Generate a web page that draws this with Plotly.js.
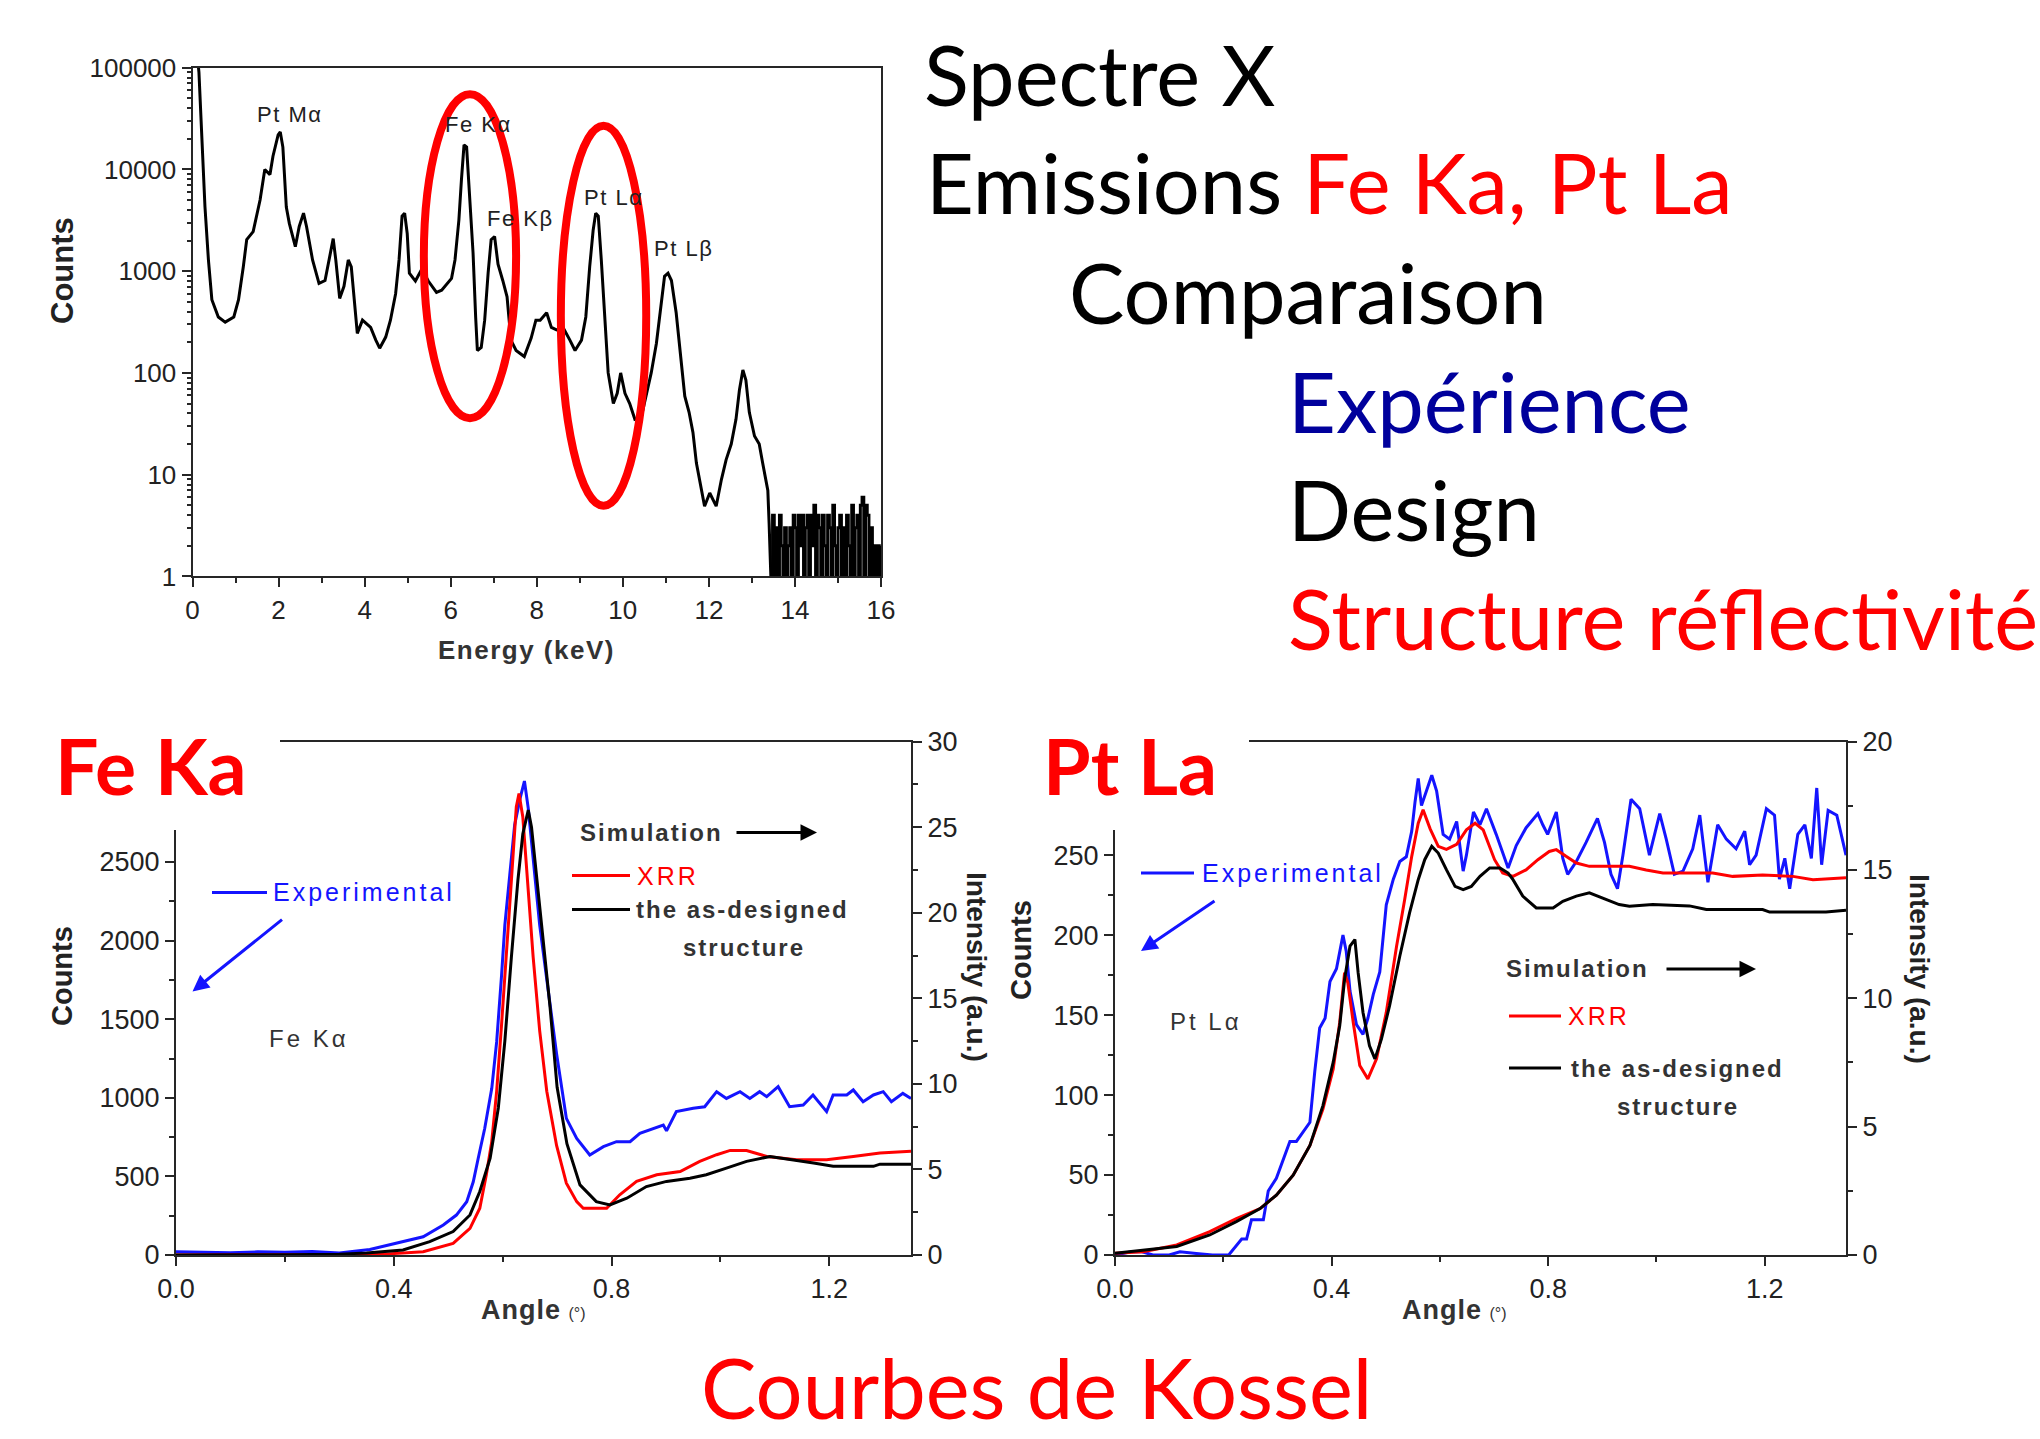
<!DOCTYPE html>
<html>
<head>
<meta charset="utf-8">
<script src="https://cdn.plot.ly/plotly-3.0.1.min.js"></script>
<style>html,body{margin:0;padding:0;background:#fff;}#chart{width:2040px;height:1439px;}</style>
</head>
<body>
<div id="chart"></div>
<script>
// ---------- X-ray spectrum (energy keV, counts) ----------
const specE = [0.10,0.15,0.20,0.25,0.29,0.37,0.45,0.60,0.76,0.96,
  1.07,1.18,1.26,1.41,1.57,1.68,1.80,1.87,1.99,2.04,
  2.10,2.18,2.25,2.39,2.48,2.58,2.65,2.79,2.94,3.08,
  3.18,3.27,3.33,3.42,3.52,3.62,3.69,3.79,3.83,3.95,
  4.14,4.26,4.35,4.49,4.60,4.72,4.80,4.87,4.93,4.99,
  5.04,5.18,5.33,5.48,5.67,5.79,6.02,6.10,6.19,6.25,
  6.31,6.37,6.44,6.52,6.58,6.62,6.71,6.79,6.87,6.94,
  7.02,7.10,7.21,7.31,7.40,7.52,7.71,7.87,7.98,8.08,
  8.23,8.34,8.46,8.61,8.77,8.89,9.04,9.14,9.23,9.31,
  9.37,9.43,9.50,9.58,9.66,9.78,9.87,9.95,10.05,10.16,
  10.28,10.43,10.55,10.66,10.78,10.90,10.97,11.05,11.13,11.24,
  11.36,11.44,11.54,11.63,11.71,11.82,11.90,12.02,12.17,12.29,
  12.40,12.52,12.63,12.71,12.79,12.86,12.94,13.06,13.17,13.25,
  13.37,13.40,13.44];
const specCounts = [150000,90000,30000,10700,4270,1290,525,355,316,355,
  525,1100,2040,2450,5000,10000,8900,13500,21900,23400,
  16600,4270,2950,1740,2750,3720,2750,1290,760,810,
  1380,2090,1290,540,710,1290,1100,330,245,330,
  280,210,175,225,330,600,1290,3470,3720,2340,
  955,800,1050,800,620,650,850,1290,3160,7940,
  17400,16600,5890,1510,355,166,178,330,955,2040,
  2190,1170,810,560,210,166,145,220,330,330,
  390,280,265,280,210,166,210,355,1100,2510,
  3720,3470,1290,310,100,50,63,100,63,50,
  35,37,63,100,195,525,890,955,810,390,
  135,59,41,26,13,7.6,4.9,6.6,4.9,8.9,
  14,20,35,68,107,85,41,24,20,13,
  7,3.3,1];
const specNoiseE = [13.44,13.48,13.52,13.56,13.60,13.64,13.68,13.72,13.76,13.80,
  13.84,13.88,13.92,13.96,14.00,14.04,14.08,14.12,14.16,14.20,
  14.24,14.28,14.32,14.36,14.40,14.44,14.48,14.52,14.56,14.60,
  14.64,14.68,14.72,14.76,14.80,14.84,14.88,14.92,14.96,15.00,
  15.04,15.08,15.12,15.16,15.20,15.24,15.28,15.32,15.36,15.40,
  15.44,15.48,15.52,15.56,15.60,15.64,15.68,15.72,15.76,15.80,
  15.84,15.88,15.92,15.96,16.00];
const specNoiseCounts = [1,4,1,3,1,4,2,1,3,1,
  2,3,1,4,3,1,4,2,4,1,
  3,4,1,4,2,5,1,4,3,1,
  4,2,1,4,3,1,5,2,1,3,
  4,1,3,1,4,2,1,5,1,3,
  4,1,5,6,1,5,4,1,3,1,
  2,1,2,1,2];
const specTicks = ['1','10','100','1000','10000','100000'];
const peakLabels = ['Pt Mα','Fe Kα','Fe Kβ','Pt Lα','Pt Lβ'];

// ---------- Fe Ka Kossel curve ----------
const feExpAngle = [0,0.05,0.10,0.15,0.20,0.25,0.30,0.356,0.387,0.417,
  0.454,0.491,0.515,0.534,0.546,0.555,0.567,0.580,0.589,0.598,
  0.604,0.613,0.622,0.632,0.640,0.647,0.656,0.668,0.684,0.699,
  0.717,0.736,0.760,0.785,0.809,0.834,0.852,0.876,0.895,0.901,
  0.919,0.950,0.971,0.993,1.011,1.036,1.054,1.072,1.085,1.106,
  1.127,1.152,1.170,1.195,1.207,1.232,1.244,1.262,1.281,1.299,
  1.314,1.335,1.35];
const feExpCounts = [20,18,15,20,18,22,12,35,60,85,
  116,191,254,339,466,614,805,1060,1357,1781,
  2099,2417,2735,2905,3015,2841,2523,2099,1675,1280,
  869,742,636,689,721,721,774,805,827,790,
  912,933,943,1039,996,1039,996,1039,1007,1071,
  943,954,1018,912,1018,1018,1050,975,1018,1039,
  975,1028,996];
const feXrrAngle = [0,0.10,0.20,0.30,0.381,0.454,0.509,0.540,0.558,0.570,
  0.580,0.589,0.598,0.607,0.616,0.625,0.630,0.637,0.647,0.656,
  0.668,0.681,0.699,0.717,0.736,0.748,0.791,0.815,0.846,0.883,
  0.926,0.962,0.993,1.018,1.048,1.085,1.140,1.195,1.244,1.293,
  1.35];
const feXrrIntensity = [0,0,0,0.02,0.05,0.19,0.68,1.56,2.73,4.69,
  6.64,9.57,13.48,17.97,21.88,26.18,26.97,25.6,21.3,17.4,
  13.1,9.57,6.4,4.2,3.12,2.73,2.73,3.52,4.30,4.69,
  4.88,5.47,5.86,6.11,6.11,5.76,5.57,5.57,5.76,5.96,
  6.06];
const feDesAngle = [0,0.10,0.20,0.30,0.35,0.417,0.466,0.509,0.540,0.558,
  0.577,0.592,0.604,0.616,0.628,0.637,0.647,0.653,0.662,0.674,
  0.687,0.700,0.718,0.742,0.772,0.797,0.828,0.864,0.901,0.944,
  0.974,1.011,1.048,1.091,1.134,1.171,1.207,1.281,1.293,1.35];
const feDesIntensity = [0,0,0.02,0.05,0.12,0.29,0.78,1.37,2.34,3.71,
  5.66,8.59,12.5,17.4,21.9,24.6,26.0,25.0,22.3,18.4,
  14.5,9.8,6.5,4.10,3.12,2.93,3.32,4.00,4.30,4.49,
  4.69,5.08,5.47,5.76,5.57,5.37,5.18,5.18,5.31,5.31];

// ---------- Pt La Kossel curve ----------
const ptExpAngle = [0,0.03,0.05,0.07,0.10,0.12,0.15,0.18,0.21,0.222,
  0.234,0.243,0.252,0.274,0.283,0.298,0.311,0.323,0.335,0.351,
  0.360,0.369,0.378,0.388,0.397,0.409,0.421,0.427,0.434,0.446,
  0.458,0.467,0.477,0.489,0.501,0.514,0.526,0.538,0.548,0.554,
  0.560,0.566,0.572,0.585,0.594,0.606,0.618,0.631,0.643,0.649,
  0.662,0.674,0.686,0.704,0.726,0.741,0.759,0.781,0.790,0.799,
  0.815,0.827,0.836,0.852,0.870,0.891,0.904,0.916,0.928,0.938,
  0.953,0.969,0.987,1.006,1.018,1.033,1.049,1.067,1.080,1.095,
  1.113,1.129,1.147,1.163,1.172,1.184,1.203,1.218,1.227,1.237,
  1.246,1.261,1.274,1.286,1.296,1.305,1.317,1.333,1.35];
const ptExpCounts = [0,2,2,0,0,2,1,0,0,5,
  10,10,22,22,40,48,60,71,71,79,
  83,115,142,148,171,179,200,190,165,144,
  138,148,163,177,219,235,246,249,265,283,
  298,281,287,300,290,263,260,271,240,250,
  277,269,279,263,242,256,267,276,269,263,
  277,248,238,246,258,273,258,238,229,250,
  285,279,250,276,260,238,240,254,275,233,
  269,260,254,265,244,250,279,275,235,248,
  229,263,269,248,292,244,278,275,250];
const ptXrrAngle = [0,0.052,0.114,0.175,0.224,0.268,0.298,0.329,0.360,0.384,
  0.403,0.415,0.424,0.430,0.440,0.452,0.467,0.483,0.501,0.520,
  0.535,0.548,0.560,0.569,0.582,0.597,0.612,0.631,0.649,0.665,
  0.680,0.701,0.716,0.735,0.759,0.781,0.802,0.815,0.833,0.852,
  0.876,0.919,0.950,0.981,1.012,1.073,1.104,1.141,1.196,1.252,
  1.289,1.35];
const ptXrrIntensity = [0.07,0.13,0.39,0.91,1.42,1.81,2.33,3.11,4.27,5.69,
  7.25,9.06,11.0,10.6,9.06,7.38,6.86,7.64,9.45,12.03,
  13.85,15.53,16.82,17.34,16.6,15.92,15.8,16.0,16.56,16.82,
  16.56,15.4,14.88,14.75,15.0,15.4,15.72,15.79,15.53,15.27,
  15.14,15.14,15.14,15.0,14.88,14.88,14.88,14.75,14.8,14.75,
  14.62,14.7];
const ptDesAngle = [0,0.114,0.175,0.224,0.268,0.298,0.329,0.360,0.384,0.403,
  0.415,0.424,0.434,0.443,0.449,0.458,0.470,0.480,0.492,0.507,
  0.526,0.544,0.560,0.572,0.585,0.597,0.612,0.628,0.643,0.658,
  0.674,0.692,0.711,0.726,0.735,0.753,0.778,0.809,0.827,0.852,
  0.876,0.901,0.931,0.950,0.993,1.061,1.092,1.196,1.209,1.313,
  1.35];
const ptDesIntensity = [0.07,0.33,0.78,1.30,1.81,2.33,3.11,4.27,5.82,7.51,
  8.93,10.74,12.03,12.29,11.0,9.45,8.15,7.64,8.41,9.70,
  11.65,13.33,14.62,15.4,15.92,15.66,15.01,14.36,14.23,14.36,
  14.75,15.08,15.08,14.88,14.62,13.98,13.52,13.52,13.78,13.98,
  14.11,13.91,13.65,13.59,13.65,13.6,13.46,13.46,13.36,13.36,
  13.43];
const angleTicks = ['0.0','0.4','0.8','1.2'];
const feCountTicks = [0,500,1000,1500,2000,2500];
const ptCountTicks = [0,50,100,150,200,250];

// ---------- page texts ----------
const textLines = ['Spectre X','Emissions ','Fe Ka, Pt La','Comparaison','Expérience','Design','Structure réflectivité'];
const kosselTitle = 'Courbes de Kossel';
const panelTitles = ['Fe Ka','Pt La'];
const legendTexts = ['Experimental','Simulation','XRR','the as-designed','structure'];

// ================= drawing =================
const W = 2040, H = 1439;
const px = x => x / W;
const py = y => 1 - y / H;
const RED = '#ff0000', BLUE = '#1414ff', NAVY = '#00009c', INK = '#222222';
const ARIAL = 'Liberation Sans, Arial, sans-serif';
const CAL = 'Lato, Carlito, Calibri, sans-serif';

const lineCol = '#262626';
const axBase = {showgrid:false, zeroline:false, showline:true, linecolor:lineCol, linewidth:2,
  ticks:'outside', tickcolor:lineCol, tickwidth:2, ticklen:9,
  tickfont:{family:ARIAL, size:27, color:INK}};
function minorOpts(extra){ return Object.assign({ticks:'outside', ticklen:5, tickwidth:2, tickcolor:lineCol}, extra); }

const logMinor = [];
for (let d = 1; d < 100000; d *= 10) for (let k = 2; k <= 9; k++) logMinor.push(d * k);
const feMinor = [], ptMinor = [];
for (let v = 250; v < 2700; v += 500) feMinor.push(v);
for (let v = 25; v < 270; v += 50) ptMinor.push(v);

const traces = [
  {x:specE, y:specCounts, xaxis:'x', yaxis:'y', mode:'lines', line:{color:'#000', width:3}},
  {x:specNoiseE, y:specNoiseCounts, xaxis:'x', yaxis:'y', mode:'lines', line:{color:'#000', width:3, shape:'hv'}},
  {x:feExpAngle, y:feExpCounts, xaxis:'x2', yaxis:'y2', mode:'lines', line:{color:BLUE, width:3}},
  {x:feXrrAngle, y:feXrrIntensity, xaxis:'x2', yaxis:'y3', mode:'lines', line:{color:RED, width:3}},
  {x:feDesAngle, y:feDesIntensity, xaxis:'x2', yaxis:'y3', mode:'lines', line:{color:'#000', width:3}},
  {x:ptExpAngle, y:ptExpCounts, xaxis:'x3', yaxis:'y4', mode:'lines', line:{color:BLUE, width:3}},
  {x:ptXrrAngle, y:ptXrrIntensity, xaxis:'x3', yaxis:'y5', mode:'lines', line:{color:RED, width:3}},
  {x:ptDesAngle, y:ptDesIntensity, xaxis:'x3', yaxis:'y5', mode:'lines', line:{color:'#000', width:3}}
];

const botDomY = [py(1255), py(741.6)];
const layout = {
  width:W, height:H, margin:{l:0,r:0,t:0,b:0}, paper_bgcolor:'#fff', plot_bgcolor:'rgba(0,0,0,0)',
  showlegend:false,
  xaxis: Object.assign({}, axBase, {domain:[px(192.5), px(881)], range:[0,16], anchor:'y', mirror:true,
    tick0:0, dtick:2, minor:minorOpts({dtick:1}), tickfont:{family:ARIAL, size:26, color:INK}}),
  yaxis: Object.assign({}, axBase, {domain:[py(576.4), py(67.7)], type:'log', range:[0,5], anchor:'x', mirror:true,
    tickvals:[1,10,100,1000,10000,100000], ticktext:specTicks, minor:minorOpts({tickvals:logMinor, ticklen:4}),
    tickfont:{family:ARIAL, size:26, color:INK}}),
  xaxis2: Object.assign({}, axBase, {domain:[px(176), px(911)], range:[0,1.35], anchor:'y2', mirror:true,
    tickvals:[0,0.4,0.8,1.2], ticktext:angleTicks, minor:minorOpts({tickvals:[0.2,0.6,1.0]})}),
  yaxis2: Object.assign({}, axBase, {domain:botDomY, range:[0,3266], anchor:'x2', tickvals:feCountTicks,
    minor:minorOpts({tickvals:feMinor})}),
  yaxis3: Object.assign({}, axBase, {domain:botDomY, range:[0,30], anchor:'x2', overlaying:'y2', side:'right',
    tick0:0, dtick:5, minor:minorOpts({dtick:2.5})}),
  xaxis3: Object.assign({}, axBase, {domain:[px(1115), px(1846)], range:[0,1.35], anchor:'y4', mirror:true,
    tickvals:[0,0.4,0.8,1.2], ticktext:angleTicks, minor:minorOpts({tickvals:[0.2,0.6,1.0]})}),
  yaxis4: Object.assign({}, axBase, {domain:botDomY, range:[0,321], anchor:'x3', tickvals:ptCountTicks,
    minor:minorOpts({tickvals:ptMinor})}),
  yaxis5: Object.assign({}, axBase, {domain:botDomY, range:[0,20], anchor:'x3', overlaying:'y4', side:'right',
    tick0:0, dtick:5, minor:minorOpts({dtick:2.5})}),
  shapes: [],
  annotations: []
};

const S = layout.shapes, A = layout.annotations;
// red ellipses on the spectrum
S.push({type:'circle', xref:'x domain', yref:'y domain', x0:0.336, x1:0.470, y0:0.311, y1:0.948, line:{color:RED, width:8}, layer:'above'});
S.push({type:'circle', xref:'x domain', yref:'y domain', x0:0.535, x1:0.659, y0:0.139, y1:0.886, line:{color:RED, width:8}, layer:'above'});
// white boxes of the slide titles covering the charts' top-left corners
S.push({type:'rect', xref:'paper', yref:'paper', x0:0, x1:px(280), y0:py(830), y1:py(728), fillcolor:'#fff', line:{width:0}, layer:'above'});
S.push({type:'rect', xref:'paper', yref:'paper', x0:px(1000), x1:px(1249), y0:py(830), y1:py(728), fillcolor:'#fff', line:{width:0}, layer:'above'});
// legend line samples
function seg(x0, x1, y, col){ S.push({type:'line', xref:'paper', yref:'paper', x0:px(x0), x1:px(x1), y0:py(y), y1:py(y), line:{color:col, width:3}, layer:'above'}); }
seg(212, 267, 892.5, BLUE); seg(572, 630, 875.6, RED); seg(572, 630, 909.4, '#000');
seg(1141, 1194, 873, BLUE); seg(1509, 1561, 1016, RED); seg(1509, 1561, 1068, '#000');

function ann(text, x, y, o){
  A.push(Object.assign({text:text, xref:'paper', yref:'paper', x:px(x), y:py(y), showarrow:false,
    xanchor:'center', yanchor:'middle', font:{family:ARIAL, size:22, color:INK}}, o||{}));
}
function arrow(hx, hy, ax, ay, col){
  A.push({text:'', xref:'paper', yref:'paper', x:px(hx), y:py(hy), ax:ax, ay:ay, showarrow:true,
    arrowhead:2, arrowsize:1.1, arrowwidth:3, arrowcolor:col});
}
const sp = (t, ls) => '<span style="letter-spacing:' + ls + 'px">' + t + '</span>';

// spectrum texts
ann('<b>Counts</b>', 62, 271, {textangle:-90, font:{family:ARIAL, size:31, color:INK}});
ann(sp('<b>Energy (keV)</b>', 1.5), 526, 650, {font:{family:ARIAL, size:26, color:'#333'}});
const pk = {family:ARIAL, size:22, color:INK};
ann(sp(peakLabels[0], 1.5), 289, 114.5, {font:pk});
ann(sp(peakLabels[1], 1.5), 478, 125, {font:pk});
ann(sp(peakLabels[2], 1.5), 520, 218.6, {font:pk});
ann(sp(peakLabels[3], 1.5), 613.5, 198, {font:pk});
ann(sp(peakLabels[4], 1.5), 683.5, 248.5, {font:pk});

// slide text block
const F = 83;
const big = (t, x, y, col) => ann(t, x, y, {xanchor:'left', font:{family:CAL, size:F, color:col}});
big(textLines[0], 922, 73.5, '#000');
big(textLines[1] + '<span style="color:' + RED + '">' + textLines[2] + '</span>', 924, 182, '#000');
big(textLines[3], 1067, 292, '#000');
big(textLines[4], 1286, 401, NAVY);
big(textLines[5], 1286, 509, '#000');
big(textLines[6], 1286, 618, RED);
ann(kosselTitle, 1036, 1387, {font:{family:CAL, size:F, color:RED}});
ann('<b>' + panelTitles[0] + '</b>', 53, 764.5, {xanchor:'left', font:{family:CAL, size:77, color:RED}});
ann('<b>' + panelTitles[1] + '</b>', 1041, 764.5, {xanchor:'left', font:{family:CAL, size:77, color:RED}});

// Fe Ka chart texts
const lab = {family:ARIAL, size:24, color:'#333'};
const bl = t => sp('<b>' + t + '</b>', 2);
ann('<b>Counts</b>', 62, 976, {textangle:-90, font:{family:ARIAL, size:29, color:INK}});
ann('<b>Intensity (a.u.)</b>', 977, 967, {textangle:90, font:{family:ARIAL, size:28, color:INK}});
ann(sp('<b>Angle</b>', 1) + ' <span style="font-size:16px">(°)</span>', 533, 1310, {font:{family:ARIAL, size:27, color:'#333'}});
ann(sp(legendTexts[0], 3), 270.6, 892, {xanchor:'left', font:{family:ARIAL, size:25, color:BLUE}});
ann(sp('Fe Kα', 3), 266.7, 1038, {xanchor:'left', font:lab});
ann(bl(legendTexts[1]), 577.6, 832.6, {xanchor:'left', font:lab});
ann(sp(legendTexts[2], 3), 635, 875.6, {xanchor:'left', font:{family:ARIAL, size:25, color:RED}});
ann(bl(legendTexts[3]), 633.6, 909.4, {xanchor:'left', font:lab});
ann(bl(legendTexts[4]), 744, 947, {font:lab});
arrow(192.5, 991.4, 91, -73, BLUE);
arrow(817, 832.6, -82, 0, '#000');

// Pt La chart texts
ann('<b>Counts</b>', 1021, 950, {textangle:-90, font:{family:ARIAL, size:29, color:INK}});
ann('<b>Intensity (a.u.)</b>', 1919, 969, {textangle:90, font:{family:ARIAL, size:28, color:INK}});
ann(sp('<b>Angle</b>', 1) + ' <span style="font-size:16px">(°)</span>', 1454.5, 1310, {font:{family:ARIAL, size:27, color:'#333'}});
ann(sp(legendTexts[0], 3), 1199.5, 873, {xanchor:'left', font:{family:ARIAL, size:25, color:BLUE}});
ann(sp('Pt Lα', 3), 1168, 1021.3, {xanchor:'left', font:lab});
ann(bl(legendTexts[1]), 1504, 969, {xanchor:'left', font:lab});
ann(sp(legendTexts[2], 3), 1566, 1016, {xanchor:'left', font:{family:ARIAL, size:25, color:RED}});
ann(bl(legendTexts[3]), 1569, 1068, {xanchor:'left', font:lab});
ann(bl(legendTexts[4]), 1678, 1106, {font:lab});
arrow(1141, 951, 75, -51, BLUE);
arrow(1756, 969, -91, 0, '#000');

Plotly.newPlot('chart', traces, layout, {displayModeBar:false, staticPlot:true});
</script>
</body>
</html>
